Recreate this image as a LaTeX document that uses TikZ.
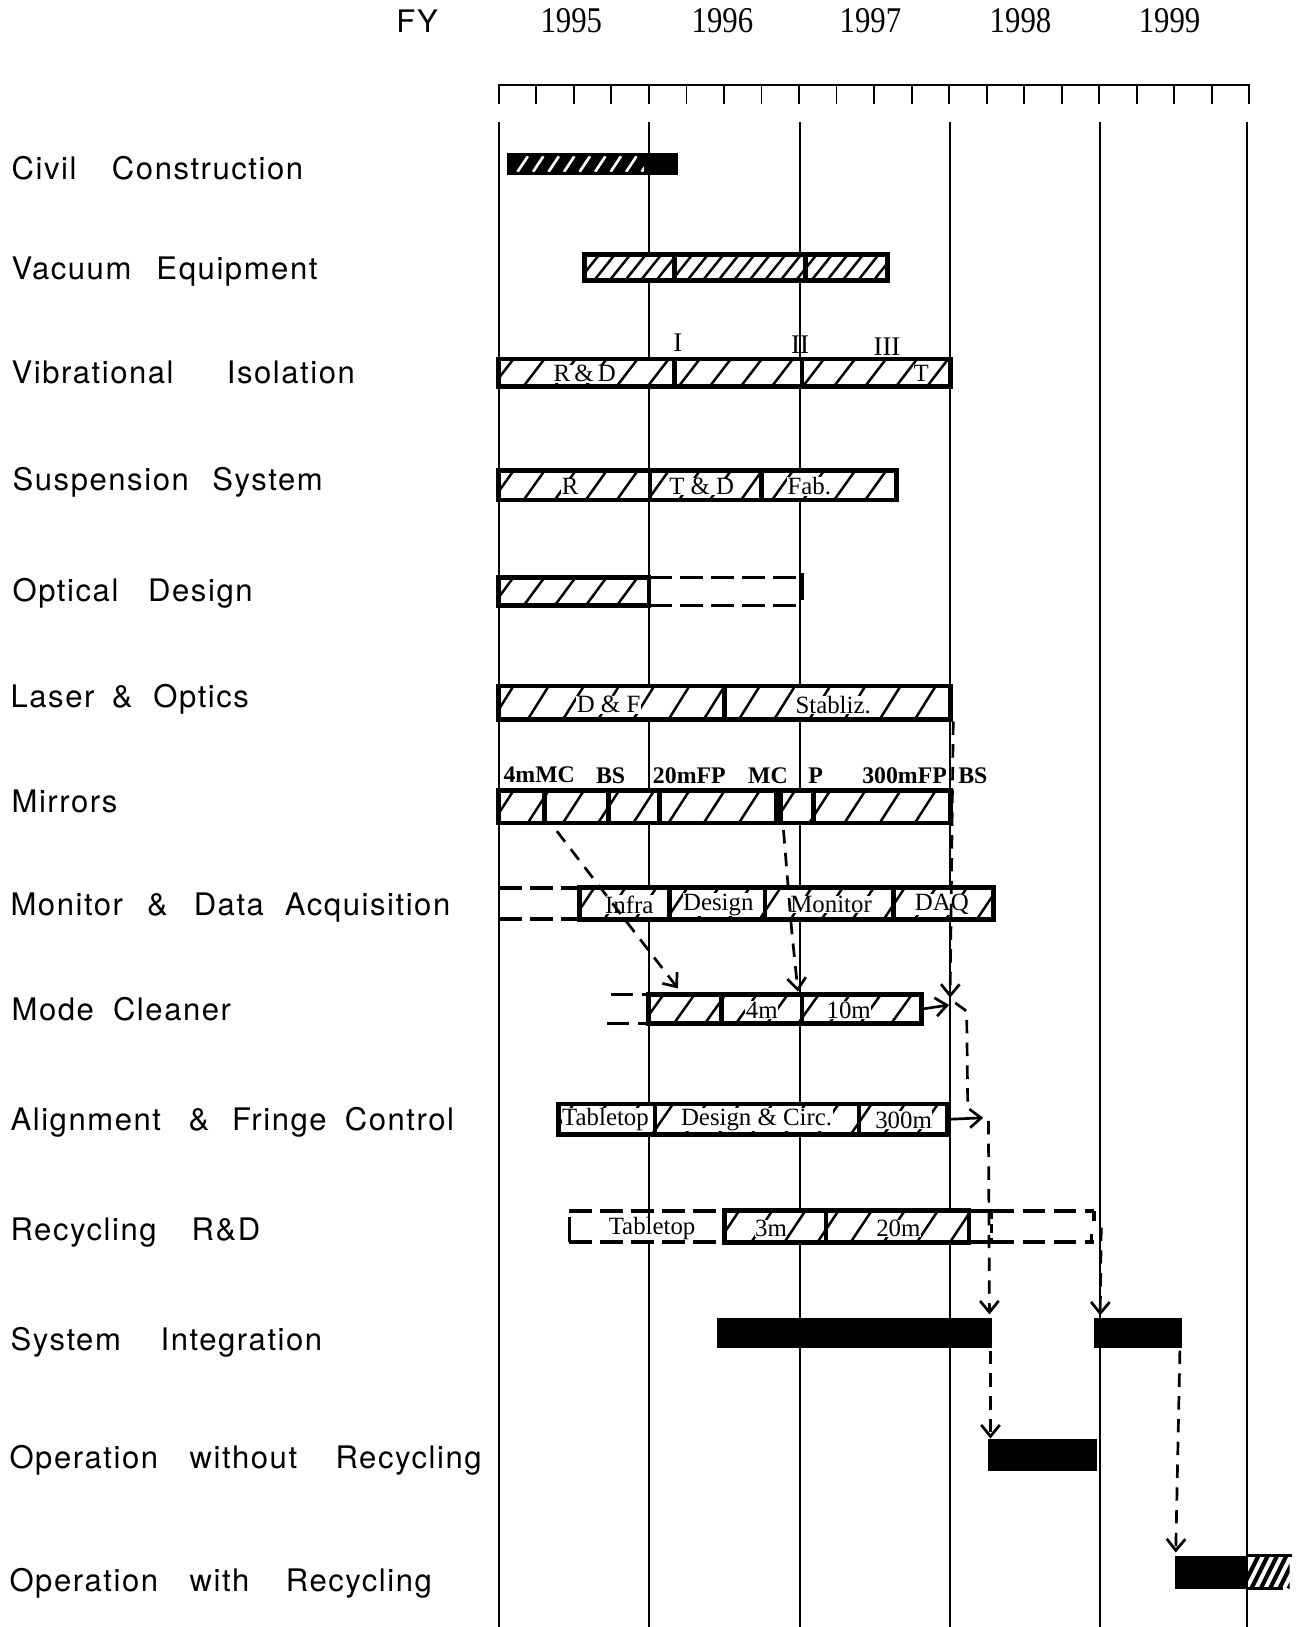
\documentclass[tikz,border=0pt]{standalone}
\usepackage{fontspec}
\setmainfont{Liberation Serif}
\newfontfamily\lblfamily[LetterSpace=5]{TeX Gyre Heros}
\newfontfamily\yrfamily[FakeStretch=0.85]{Liberation Serif}
\usetikzlibrary{arrows.meta,fit}

\tikzset{
  yline/.style={line width=1.6pt},
  hstroke/.style={line width=2.4pt},
  divider/.style={line width=4.5pt},
  blackbar/.style={fill=black, inner sep=0pt},
  rowlbl/.style={font=\lblfamily\fontsize{30}{36}\selectfont, anchor=base west, inner sep=0pt},
  yearlbl/.style={font=\yrfamily\fontsize{35}{40}\selectfont, inner sep=0pt},
  intxt/.style={font=\fontsize{24}{28}\selectfont, fill=white, inner sep=0.5pt},
  toptxt/.style={font=\bfseries\fontsize{23}{28}\selectfont, inner sep=0pt, anchor=base},
  romtxt/.style={font=\fontsize{26}{30}\selectfont, inner sep=0pt, anchor=base},
  dashbar/.style={line width=3.5pt, dash pattern=on 22pt off 8pt},
  dep/.style={line width=2.6pt, dash pattern=on 13pt off 9pt},
  tip/.style={-{Straight Barb[length=11pt,width=18pt]}},
}

\newcommand{\hatchbox}[5]{%
  \begin{scope}
    \clip (#1,#3) rectangle (#2,#4);
    \pgfmathtruncatemacro{\hn}{(#2-#1)/#5+2}
    \foreach \hk in {0,...,\hn}{
      \draw[hstroke] ({#1+\hk*#5-6},{#4}) -- ++(20,{#3-#4});
    }
  \end{scope}}

\newcommand{\gbar}[6]{%
  \node[fit={(#2,#4) (#3,#5)}, inner sep=0pt, fill=white] (#1) {};
  \hatchbox{#2}{#3}{#4}{#5}{#6}
  \draw[line width=4.5pt] (#1.north west) rectangle (#1.south east);}

\newcommand{\rowlabel}[3]{%
  \foreach \wx/\wt [count=\wi] in {#3} {\node[rowlbl] (#1w\wi) at (\wx,#2) {\wt};}}

\begin{document}
\begin{tikzpicture}[x=1pt,y=-1pt]
\fill[white] (0,0) rectangle (1258,1572);
\useasboundingbox (0,0) rectangle (1258,1572);

% header
\node[font=\lblfamily\fontsize{30}{36}\selectfont, inner sep=0pt] (fy) at (403,20) {FY};
\foreach \yy/\xx [count=\i] in {1995/552, 1996/698, 1997/841, 1998/986, 1999/1130}
  \node[yearlbl] (yr\i) at (\xx,20) {\yy};

% ruler
\draw[line width=2pt] (482,100) -- (482,82) -- (1207,82) -- (1207,100);
\foreach \k in {1,...,19} \draw[line width=1.8pt] ({482+\k*36.25},82) -- ++(0,18);

% year lines
\foreach \xx in {482,627,773,918,1063,1205} \draw[yline] (\xx,118) -- (\xx,1572);

% row labels
\rowlabel{civ}{173}{11/Civil, 108/Construction}
\rowlabel{vac}{270}{11/Vacuum, 151/Equipment}
\rowlabel{vib}{371}{11/Vibrational, 219/Isolation}
\rowlabel{sus}{474}{12/Suspension, 205/System}
\rowlabel{opt}{581}{12/Optical, 143/Design}
\rowlabel{las}{684}{10/Laser, 108/\&, 148/Optics}
\rowlabel{mir}{785}{11/Mirrors}
\rowlabel{mon}{885}{10/Monitor, 142/\&, 187/Data, 275/Acquisition}
\rowlabel{mcl}{986}{11/Mode, 109/Cleaner}
\rowlabel{afc}{1092}{10/Alignment, 182/\&, 224/Fringe, 333/Control}
\rowlabel{rec}{1199}{10/Recycling, 185/R\&D}
\rowlabel{si}{1305}{10/System, 155/Integration}
\rowlabel{owo}{1419}{9/Operation, 183/without, 324/Recycling}
\rowlabel{owr}{1538}{9/Operation, 183/with, 276/Recycling}

% 1 civil construction
\node[fit={(490,148) (655,169)}, blackbar] (civ) {};
\begin{scope}
  \clip (497,151) rectangle (622,166);
  \foreach \k in {0,...,8} \draw[white, line width=2.6pt] ({500+\k*15},166) -- ++(10,-15);
\end{scope}

% 2 vacuum equipment
\gbar{vac}{565}{857}{246}{271}{15}
\draw[divider] (652,246) -- (652,271);
\draw[divider] (778,246) -- (778,271);

% 3 vibrational isolation
\gbar{vib}{482}{918}{347}{373}{30}
\draw[divider] (652,347) -- (652,373);
\draw[divider] (775,347) -- (775,373);
\node[intxt] (vibt1) at (565,361) {R\,\&\,D};
\node[intxt] (vibt2) at (890,361) {T};
\node[romtxt] (rom1) at (655,340) {I};
\node[romtxt] (rom2) at (773,342) {II};
\node[romtxt] (rom3) at (857,343) {III};

% 4 suspension system
\gbar{sus}{482}{866}{455}{483}{30}
\draw[divider] (628,455) -- (628,483);
\draw[divider] (736,455) -- (736,483);
\node[intxt] (sust1) at (551,470) {R};
\node[intxt] (sust2) at (678,470) {T \& D};
\node[intxt] (sust3) at (782,470) {Fab.};

% 5 optical design
\gbar{opt}{482}{627}{558}{585}{30}
\draw[dashbar] (627,558) -- (775,558);
\draw[dashbar] (627,585) -- (775,585);
\draw[line width=3pt] (775,554) -- (775,580);

% 6 laser & optics
\gbar{las}{482}{918}{663}{695}{34}
\draw[divider] (700,663) -- (700,695);
\node[intxt] (last1) at (588,681) {D \& F};
\node[intxt] (last2) at (805,681) {Stabliz.};

% 7 mirrors
\node[toptxt] (m1) at (521,756) {4mMC};
\node[toptxt] (m2) at (590,757) {BS};
\node[toptxt] (m3) at (666,757) {20mFP};
\node[toptxt] (m4) at (742,757) {MC};
\node[toptxt] (m5) at (788,757) {P};
\node[toptxt] (m6) at (874,757) {300mFP};
\node[toptxt] (m7) at (940,757) {BS};
\gbar{mir}{482}{918}{764}{795}{34}
\draw[divider] (526,764) -- (526,795);
\draw[divider] (588,764) -- (588,795);
\draw[divider] (637,764) -- (637,795);
\fill (748,764) rectangle (757,795);
\draw[divider] (786,764) -- (786,795);

% 8 monitor & data acquisition
\draw[dashbar] (482,858) -- (560,858);
\draw[dashbar] (482,888) -- (560,888);
\gbar{mon}{560}{960}{858}{888}{30}
\draw[divider] (647,858) -- (647,888);
\draw[divider] (739,858) -- (739,888);
\draw[divider] (863,858) -- (863,888);
\node[intxt] (mont1) at (608,874) {Infra};
\node[intxt] (mont2) at (694,874) {Design};
\node[intxt] (mont3) at (803,874) {Monitor};
\node[intxt] (mont4) at (910,874) {DAQ};

% 9 mode cleaner
\draw[dashbar] (590,961) -- (627,961);
\draw[dashbar] (586,989) -- (627,989);
\gbar{mcl}{627}{890}{961}{989}{30}
\draw[divider] (697,961) -- (697,989);
\draw[divider] (775,961) -- (775,989);
\node[intxt] (mclt1) at (736,976) {4m};
\node[intxt] (mclt2) at (820,976) {10m};

% 10 alignment & fringe control
\gbar{afc}{540}{915}{1067}{1096}{32}
\draw[divider] (633,1067) -- (633,1096);
\draw[divider] (830,1067) -- (830,1096);
\node[intxt] (afct1) at (585,1082) {Tabletop};
\node[intxt] (afct2) at (731,1082) {Design \& Circ.};
\node[intxt] (afct3) at (873,1082) {300m};

% 11 recycling R&D
\draw[dashbar] (550,1170) -- (700,1170);
\draw[dashbar] (550,1200) -- (700,1200);
\draw[line width=3pt] (550,1176) -- (550,1200);
\gbar{rec}{700}{936}{1170}{1200}{32}
\draw[divider] (798,1170) -- (798,1200);
\draw[line width=3.5pt] (936,1170) -- (958,1170) (936,1200) -- (958,1200);
\draw[line width=3pt, dash pattern=on 8pt off 5pt] (958,1170) -- (958,1200);
\draw[dashbar] (958,1170) -- (1057,1170);
\draw[dashbar] (958,1200) -- (1057,1200);
\draw[line width=3pt] (1057,1170) -- (1057,1180) (1055,1192) -- (1055,1200);
\node[intxt] (rect1) at (630,1187) {Tabletop};
\node[intxt] (rect2) at (745,1187) {3m};
\node[intxt] (rect3) at (868,1187) {20m};

% 12 system integration
\node[fit={(693,1273) (958,1302)}, blackbar] (si1) {};
\node[fit={(1057,1273) (1142,1302)}, blackbar] (si2) {};

% 13 operation without recycling
\node[fit={(955,1390) (1060,1421)}, blackbar] (owo) {};

% 14 operation with recycling
\node[fit={(1135,1503) (1205,1535)}, blackbar] (owr) {};
\begin{scope}
  \clip (1205,1503) rectangle (1246,1535);
  \foreach \k in {0,...,6} \draw[line width=4pt] ({1200+\k*9},1535) -- ++(16,-32);
\end{scope}
\draw[line width=3pt] (1205,1503) -- (1248,1503) (1205,1535) -- (1240,1535);

% dependency connectors
\coordinate (a1) at (538,803);
\coordinate (a2) at (655,955);
\draw[dep,tip] (a1) -- (a2);

\coordinate (b1) at (757,802);
\coordinate (b2) at (765,900);
\coordinate (b3) at (771,958);
\draw[dep,tip] (b1) -- (b2) -- (b3);

\coordinate (c1) at (921,697);
\coordinate (c2) at (918,964);
\draw[dep,tip] (c1) -- (c2);

\coordinate (d2) at (917,971);
\draw[line width=2.6pt,tip] (mcl.east) -- (d2);

\coordinate (e1) at (923,969);
\coordinate (e2) at (934,977);
\coordinate (e3) at (935,1068);
\draw[dep] (e1) -- (e2) -- (e3);

\coordinate (f2) at (950,1080);
\draw[line width=2.6pt,tip] (afc.east) -- (f2);

\coordinate (g1) at (955,1083);
\coordinate (g2) at (956,1270);
\draw[dep,tip] (g1) -- (g2);

\coordinate (h1) at (1064,1186);
\coordinate (h2) at (1063,1271);
\draw[dep,tip] (h1) -- (h2);

\coordinate (i1) at (957,1305);
\draw[dep,tip] (i1) -- (owo.north west -| i1);

\coordinate (j1) at (1140,1305);
\coordinate (j2) at (1136,1500);
\draw[dep,tip] (j1) -- (j2);
\end{tikzpicture}
\end{document}
